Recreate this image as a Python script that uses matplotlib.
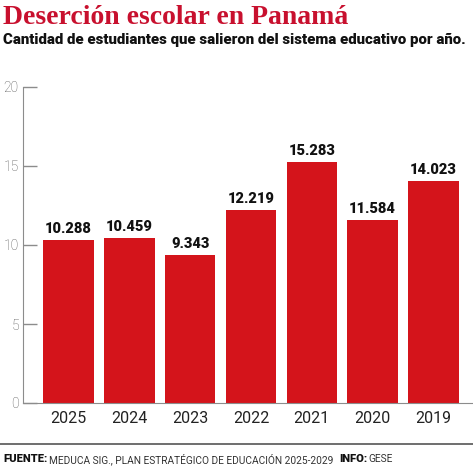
import matplotlib
matplotlib.use('Agg')
import matplotlib.pyplot as plt
from matplotlib.lines import Line2D

years = ['2025', '2024', '2023', '2022', '2021', '2020', '2019']
values = [10.288, 10.459, 9.343, 12.219, 15.283, 11.584, 14.023]
value_labels = ['10.288', '10.459', '9.343', '12.219', '15.283', '11.584', '14.023']
yticks = [0, 5, 10, 15, 20]

red = '#d4141b'
gray = '#8c8c8c'

fig = plt.figure(figsize=(4.73, 4.66), dpi=100)
ax = fig.add_axes([23 / 473, 63 / 466, 450 / 473, 316 / 466])

x = list(range(len(years)))
ax.bar(x, values, width=0.83, color=red, zorder=2)
for xi, v, lab in zip(x, values, value_labels):
    ax.text(xi, v + 0.25, lab, ha='center', va='bottom', fontsize=10.5,
            fontweight='black', family='Roboto', color='#111111')

ax.set_xlim(-0.75, 6.65)
ax.set_ylim(0, 20)
ax.set_yticks(yticks)
ax.set_yticklabels([str(t) for t in yticks], family='Roboto', fontsize=10,
                   color='#555555', fontweight='light')
ax.set_xticks(x)
ax.set_xticklabels(years, family='Roboto', fontsize=11.5, color='#222222')
ax.tick_params(axis='y', direction='in', length=10, color=gray, width=1, pad=3)
ax.tick_params(axis='x', length=0, pad=6)
for s in ['top', 'right']:
    ax.spines[s].set_visible(False)
ax.spines['left'].set_color(gray)
ax.spines['bottom'].set_color(gray)

fig.text(3 / 473, 1 - 17 / 466, 'Deserción escolar en Panamá', fontsize=20,
         fontweight='bold', family='Liberation Serif', color='#c8102e',
         va='center', ha='left')
fig.text(3 / 473, 1 - 40 / 466,
         'Cantidad de estudiantes que salieron del sistema educativo por año.',
         fontsize=10.8, fontweight='black', family='Roboto', color='#111111',
         va='center', ha='left')

fig.add_artist(Line2D([0, 1], [1 - 444 / 466, 1 - 444 / 466],
                      transform=fig.transFigure, color='#555555', lw=1.2))

footer = [('FUENTE:', 'black', '#111111', 0, 8),
          ('MEDUCA SIG., PLAN ESTRATÉGICO DE EDUCACIÓN 2025-2029', 'normal', '#333333', 2, 7.3),
          ('INFO:', 'black', '#111111', 6, 8),
          ('GESE', 'normal', '#333333', 1, 7.3)]
renderer = fig.canvas.get_renderer()
xpos = 3
for txt, w, c, gap, fs in footer:
    xpos += gap
    t = fig.text(xpos / 473, 1 - 459 / 466, txt, fontsize=fs, fontweight=w,
                 family='Roboto', color=c, va='center', ha='left')
    xpos += t.get_window_extent(renderer).width

fig.savefig('out.png', dpi=100)
